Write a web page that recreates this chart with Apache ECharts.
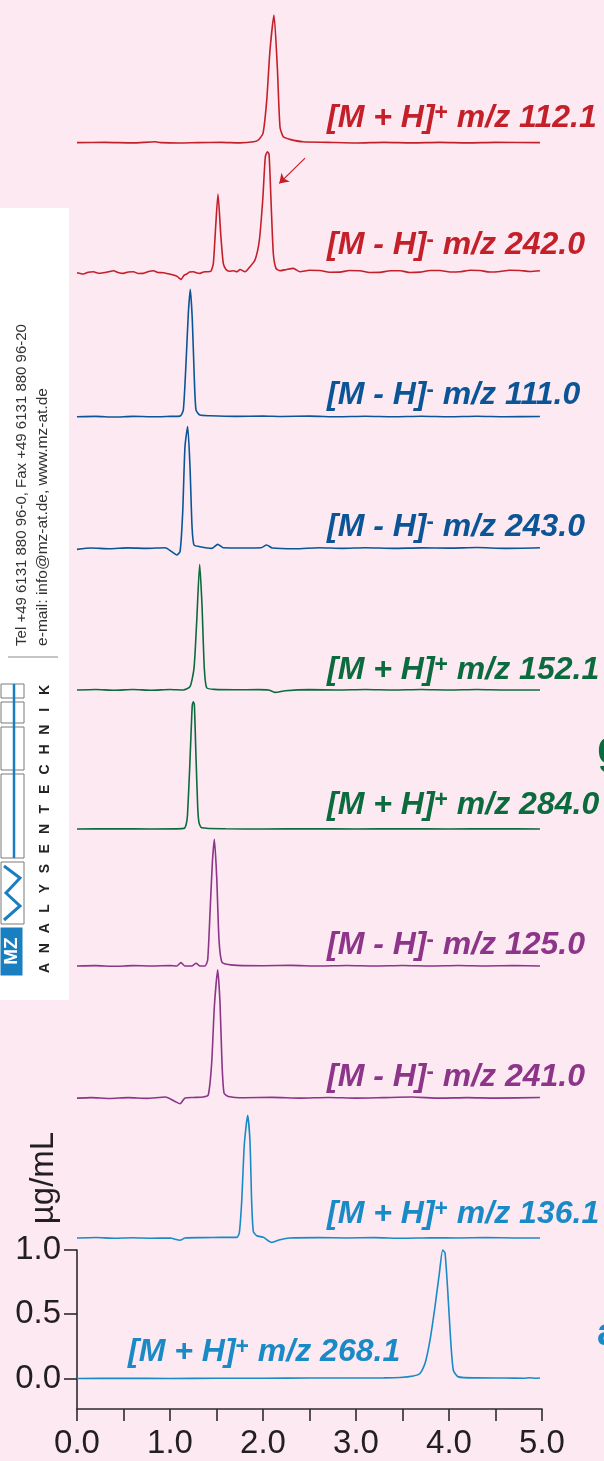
<!DOCTYPE html>
<html>
<head>
<meta charset="utf-8">
<title>LC-MS/MS Chromatogramme</title>
<script src="https://cdn.jsdelivr.net/npm/echarts@6/dist/echarts.min.js"></script>
<style>
  html, body { margin: 0; padding: 0; background: #fce9f2; }
  #chart { width: 604px; height: 1461px; }
</style>
</head>
<body>
<div id="chart"></div>
<script>
// Retentionszeit (min) / Konzentration (µg/mL)
var concTicks = [0, 0.5, 1.0];

// vertical offset of each trace, in µg/mL units of the bottom axis
var offsets = [9.656, 8.639, 7.514, 6.486, 5.379, 4.293, 3.223, 2.191, 1.098, 0];

// label texts
var labelIons = ['+', '-', '-', '-', '+', '+', '-', '-', '+', '+'];
var labelMz = ['112.1', '242.0', '111.0', '243.0', '152.1', '284.0', '125.0', '241.0', '136.1', '268.1'];

// traces: [time, signal above own baseline]
var trace112 = [[0,0],[0.3,0.002],[0.6,-0.002],[0.84,0.006],[0.9,0],[1.1,-0.003],[1.3,0],[1.55,0.002],[1.75,-0.002],
  [1.9,0.006],[1.95,0.02],[2.0,0.072],[2.04,0.33],[2.075,0.72],[2.118,0.996],[2.154,0.59],[2.183,0.12],[2.219,0.045],
  [2.29,0.025],[2.43,0.006],[2.7,0.002],[3.0,-0.003],[3.3,0.002],[3.6,-0.002],[3.9,0.002],[4.2,-0.002],[4.5,0.002],[4.978,0]];

var trace242 = [[0,0],[0.068,-0.010],[0.12,0.004],[0.176,0.008],[0.23,-0.004],[0.283,0],[0.34,0.008],[0.391,0.016],[0.44,0.002],
  [0.498,-0.005],[0.55,0.006],[0.606,0.008],[0.66,-0.006],[0.713,-0.005],[0.77,0.01],[0.821,0.016],[0.87,0.002],[0.928,0],
  [0.98,-0.008],[1.036,-0.018],[1.08,-0.03],[1.118,-0.052],[1.15,-0.02],[1.179,-0.010],[1.21,0.006],[1.251,0.008],
  [1.29,-0.002],[1.323,-0.005],[1.36,0.006],[1.394,0.008],[1.44,0.012],[1.466,0.073],[1.491,0.36],[1.516,0.615],
  [1.545,0.307],[1.573,0.073],[1.602,0.026],[1.64,0.012],[1.681,0.016],[1.72,0.008],[1.753,0.026],[1.806,0.008],
  [1.860,0.047],[1.914,0.099],[1.961,0.255],[1.997,0.568],[2.025,0.906],[2.047,0.945],[2.065,0.927],[2.086,0.568],
  [2.111,0.151],[2.140,0.034],[2.183,0.016],[2.254,0.026],[2.326,0.034],[2.398,0.008],[2.5,0.02],[2.613,0.018],
  [2.72,0.004],[2.828,0.005],[2.93,0.018],[3.043,0.016],[3.15,0.002],[3.258,0.003],[3.37,0.016],[3.473,0.016],
  [3.58,0.002],[3.688,0.005],[3.8,0.018],[3.903,0.018],[4.01,0.006],[4.118,0.008],[4.23,0.02],[4.333,0.018],
  [4.44,0.006],[4.548,0.010],[4.65,0.02],[4.763,0.018],[4.87,0.01],[4.978,0.016]];

var trace111 = [[0,0],[0.2,0.003],[0.4,-0.002],[0.6,0.003],[0.8,0],[1.0,0.003],[1.108,0.005],[1.143,0.052],[1.172,0.417],
  [1.197,0.807],[1.218,0.995],[1.240,0.755],[1.262,0.286],[1.280,0.052],[1.323,0.013],[1.430,0.008],[1.7,0.003],
  [2.0,0.006],[2.2,0.002],[2.5,0.005],[2.8,0],[3.1,0.004],[3.4,0],[3.7,0.004],[4.0,0],[4.3,0.004],[4.6,0],[4.978,0.002]];

var trace243 = [[0,-0.008],[0.15,0.003],[0.35,-0.003],[0.55,0.004],[0.75,0],[0.95,0.005],[1.018,-0.026],[1.072,-0.052],
  [1.108,-0.026],[1.136,0.273],[1.161,0.794],[1.190,0.951],[1.215,0.638],[1.237,0.169],[1.258,0.026],[1.323,0.013],
  [1.448,0],[1.513,0.031],[1.573,0.005],[1.8,0.003],[1.98,0.005],[2.039,0.026],[2.10,0.003],[2.35,-0.003],[2.6,0.005],
  [2.85,0],[3.1,0.005],[3.4,0],[3.7,0.004],[4.0,0.002],[4.3,0.006],[4.6,0],[4.978,0.005]];

var trace152 = [[0,0],[0.2,0.004],[0.4,-0.002],[0.6,0.004],[0.8,-0.002],[1.0,0.004],[1.143,0],[1.215,0.026],[1.258,0.169],
  [1.287,0.534],[1.319,0.982],[1.344,0.664],[1.369,0.169],[1.394,0.018],[1.48,0.005],[1.7,0.002],[1.95,0.003],[2.06,0],
  [2.129,-0.018],[2.24,-0.005],[2.5,0.003],[2.8,0],[3.1,0.004],[3.4,0],[3.7,0.004],[4.0,0],[4.3,0.004],[4.6,0],[4.978,0]];

var trace284 = [[0,0],[0.4,0.002],[0.8,0],[1.15,0.005],[1.175,0.04],[1.188,0.11],[1.21,0.45],[1.232,0.85],[1.24,0.97],
  [1.251,0.995],[1.262,0.97],[1.278,0.6],[1.298,0.17],[1.312,0.05],[1.34,0.01],[1.6,0.002],[2.0,0],[2.5,0.002],[3.0,0],
  [3.5,0.002],[4.0,0],[4.5,0.002],[4.978,0]];

var trace125 = [[0,0],[0.2,0.003],[0.4,-0.002],[0.6,0.003],[0.8,0],[1.0,0.003],[1.072,0],[1.118,0.026],[1.161,0],[1.233,0],
  [1.280,0.021],[1.323,0],[1.376,0],[1.405,0.047],[1.430,0.411],[1.455,0.802],[1.477,0.99],[1.502,0.698],[1.527,0.203],
  [1.556,0.034],[1.609,0.013],[1.72,0.005],[2.0,0.002],[2.3,0.005],[2.6,0],[2.9,0.004],[3.2,0],[3.5,0.004],[3.8,0],
  [4.1,0.004],[4.4,0],[4.7,0.003],[4.978,0]];

var trace241 = [[0,0],[0.15,0.004],[0.35,-0.003],[0.55,0.004],[0.75,-0.002],[0.95,0.008],[1.054,-0.026],[1.108,-0.044],
  [1.161,0],[1.25,0.005],[1.358,0.008],[1.412,0.026],[1.448,0.273],[1.477,0.716],[1.513,1.003],[1.538,0.742],[1.559,0.273],
  [1.581,0.039],[1.627,0.013],[1.8,0.003],[2.1,0.006],[2.4,0],[2.7,0.005],[3.0,0],[3.3,0.004],[3.6,0.008],[3.9,0],
  [4.2,0.004],[4.5,0],[4.978,0.005]];

var trace136 = [[0,0],[0.2,0.004],[0.4,-0.002],[0.6,0.002],[0.8,-0.002],[1.0,0],[1.108,-0.018],[1.161,0],[1.35,0.003],
  [1.55,0.005],[1.717,0.005],[1.745,0.039],[1.771,0.286],[1.799,0.729],[1.835,0.958],[1.86,0.755],[1.878,0.286],
  [1.896,0.052],[1.932,0.018],[2.004,0.005],[2.093,-0.034],[2.183,-0.013],[2.29,0],[2.6,0.003],[2.9,0],[3.2,0.003],
  [3.5,-0.002],[3.8,0.002],[4.1,0],[4.4,0.003],[4.7,0],[4.978,0]];

var trace268 = [[0,0],[0.5,0.002],[1.0,0],[1.5,0.002],[2.0,0.002],[2.5,0.004],[3.0,0.004],[3.3,0.005],[3.473,0.008],
  [3.616,0.02],[3.688,0.039],[3.742,0.117],[3.796,0.3],[3.849,0.56],[3.896,0.82],[3.932,1.003],[3.957,0.982],[3.986,0.69],
  [4.018,0.3],[4.047,0.065],[4.1,0.013],[4.3,0.005],[4.6,0.004],[4.8,0.002],[4.87,0.006],[4.93,0.002],[4.978,0.004]];

// arrow pointing at the second peak of m/z 242.0
var arrowFrom = [2.452, 0.896];
var arrowTo = [2.175, 0.698];

var traces = [trace112, trace242, trace111, trace243, trace152, trace284, trace125, trace241, trace136, trace268];
var colors = ['#c4202a', '#c4202a', '#0b5596', '#0b5596', '#0b6a3e', '#0b6a3e', '#8c3589', '#8c3589', '#1a8ac6', '#1a8ac6'];

// label layout (pixels)
var labelLeft = [327, 327, 327, 327, 327, 327, 327, 327, 327, 128];
var labelBase = [129, 256, 406, 538, 681, 816, 956, 1088, 1225, 1363];

var chart = echarts.init(document.getElementById('chart'));

var series = traces.map(function (tr, i) {
  return {
    type: 'line',
    xAxisIndex: 1,
    yAxisIndex: 1,
    data: tr.map(function (p) { return [p[0], p[1] + offsets[i]]; }),
    showSymbol: false,
    smooth: 0.2,
    silent: true,
    lineStyle: {color: colors[i], width: 1.6},
    itemStyle: {color: colors[i]}
  };
});
series[1].markLine = {
  silent: true,
  symbol: ['none', 'arrow'],
  symbolSize: 9,
  label: {show: false},
  lineStyle: {color: colors[1], width: 1.2, type: 'solid'},
  data: [[
    {coord: [arrowFrom[0], arrowFrom[1] + offsets[1]]},
    {coord: [arrowTo[0], arrowTo[1] + offsets[1]]}
  ]]
};

var font = 'Liberation Sans';
var graphics = [];

// trace labels
labelMz.forEach(function (mz, i) {
  var ion = labelIons[i];
  var c = colors[i];
  var base = {fontSize: 32, fontWeight: 'bold', fontStyle: 'italic', fontFamily: font, fill: c, lineHeight: 32};
  graphics.push({
    type: 'text', x: labelLeft[i], y: labelBase[i] - 11, z: 20, silent: true,
    style: {
      text: '{b|[M ' + ion + ' H]}{' + (ion === '+' ? 'sp' : 'sm') + '|' + ion + '}{b| m/z ' + mz + '}',
      align: 'left', verticalAlign: 'middle', fill: c,
      rich: {
        b: base,
        sp: {fontSize: 23, fontWeight: 'bold', fontFamily: font, fill: c, lineHeight: 26, verticalAlign: 'top'},
        sm: {fontSize: 22, fontWeight: 'bold', fontFamily: font, fill: c, lineHeight: 14, verticalAlign: 'top'}
      }
    }
  });
});

// y axis unit
graphics.push({
  type: 'text', x: 44, y: 1178, rotation: Math.PI / 2, silent: true,
  style: {text: 'µg/mL', align: 'center', verticalAlign: 'middle', fontSize: 33, fontFamily: font, fill: '#231f20'}
});

// cut-off letters at the right edge
graphics.push({type: 'text', x: 597, y: 750, silent: true,
  style: {text: 'g', verticalAlign: 'middle', fontSize: 46, fontWeight: 'bold', fontFamily: font, fill: colors[5]}});
graphics.push({type: 'text', x: 597, y: 1335, silent: true,
  style: {text: 'a', verticalAlign: 'middle', fontSize: 38, fontWeight: 'bold', fontFamily: font, fill: colors[9]}});

// company panel on the left
graphics.push({type: 'rect', shape: {x: 0, y: 208, width: 69, height: 792}, style: {fill: '#ffffff'}, silent: true});
graphics.push({type: 'text', x: 22, y: 485, rotation: Math.PI / 2, silent: true,
  style: {text: 'Tel +49 6131 880 96-0, Fax +49 6131 880 96-20', align: 'center', verticalAlign: 'middle',
    fontSize: 15, fontFamily: font, fill: '#333333'}});
graphics.push({type: 'text', x: 43, y: 517, rotation: Math.PI / 2, silent: true,
  style: {text: 'e-mail: info@mz-at.de, www.mz-at.de', align: 'center', verticalAlign: 'middle',
    fontSize: 15.5, fontFamily: font, fill: '#333333'}});
graphics.push({type: 'line', shape: {x1: 8, y1: 657, x2: 58, y2: 657}, style: {stroke: '#8a8a8a', lineWidth: 1}, silent: true});
'ANALYSENTECHNIK'.split('').forEach(function (ch, i) {
  graphics.push({type: 'text', x: 45, y: 968 - i * 19.86, rotation: Math.PI / 2, silent: true,
    style: {text: ch, align: 'center', verticalAlign: 'middle', fontSize: 14, fontWeight: 'bold', fontFamily: font, fill: '#222222'}});
});
[[684, 14], [702, 21], [727, 43], [774, 84], [862, 62]].forEach(function (b) {
  graphics.push({type: 'rect', shape: {x: 1, y: b[0], width: 23, height: b[1]},
    style: {fill: '#ffffff', stroke: '#7a7a7a', lineWidth: 1}, silent: true});
});
graphics.push({type: 'line', shape: {x1: 14, y1: 684, x2: 14, y2: 858}, style: {stroke: '#1a7fc1', lineWidth: 2.5}, silent: true});
graphics.push({type: 'polyline', shape: {points: [[4, 866], [20, 878], [6, 893], [20, 906], [4, 920]]},
  style: {stroke: '#1a7fc1', lineWidth: 3, fill: 'none'}, silent: true});
graphics.push({type: 'rect', shape: {x: 0, y: 927, width: 23, height: 49}, style: {fill: '#1a7fc1', stroke: '#ffffff', lineWidth: 1}, silent: true});
graphics.push({type: 'text', x: 12, y: 951, rotation: Math.PI / 2, silent: true,
  style: {text: 'MZ', align: 'center', verticalAlign: 'middle', fontSize: 19, fontWeight: 'bold', fontFamily: font, fill: '#ffffff'}});

var option = {
  backgroundColor: '#fce9f2',
  animation: false,
  grid: [
    {left: 77, right: 62, top: 1250, bottom: 52},
    {left: 77, right: 62, top: 0, bottom: 52}
  ],
  xAxis: [
    {
      gridIndex: 0, type: 'value', min: 0, max: 5, interval: 0.5,
      axisLine: {onZero: false, lineStyle: {color: '#2b2b2b', width: 1.6}},
      axisTick: {length: 12, lineStyle: {color: '#2b2b2b', width: 1.6}},
      splitLine: {show: false},
      axisLabel: {
        margin: 18, fontSize: 33, fontFamily: font, color: '#231f20',
        formatter: function (v) { return v % 1 === 0 ? v.toFixed(1) : ''; }
      }
    },
    {gridIndex: 1, type: 'value', min: 0, max: 5, show: false}
  ],
  yAxis: [
    {
      gridIndex: 0, type: 'value', min: -0.238, max: 1.0,
      axisLine: {show: true, onZero: false, lineStyle: {color: '#2b2b2b', width: 1.6}},
      axisTick: {show: true, length: 13, customValues: concTicks, lineStyle: {color: '#2b2b2b', width: 1.6}},
      splitLine: {show: false},
      axisLabel: {
        margin: 16, fontSize: 33, fontFamily: font, color: '#231f20', customValues: concTicks,
        formatter: function (v) { return v.toFixed(1); }
      }
    },
    {gridIndex: 1, type: 'value', min: -0.238, max: 10.77, show: false}
  ],
  series: series,
  graphic: graphics
};

chart.setOption(option);
window.addEventListener('resize', function () {
  chart.resize();
});
</script>
</body>
</html>
